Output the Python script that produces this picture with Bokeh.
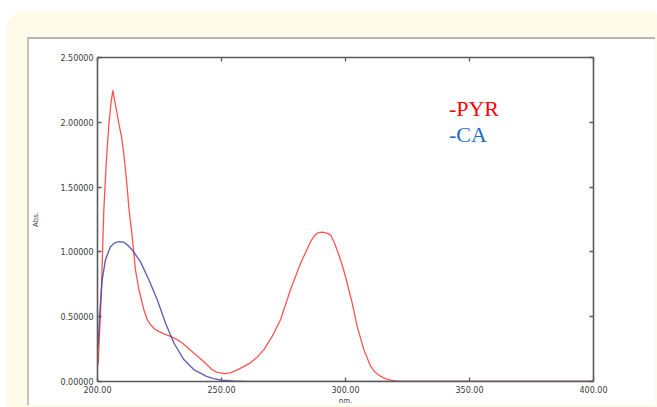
from bokeh.plotting import figure
from bokeh.layouts import column
from bokeh.models import LinearAxis, Label, FixedTicker, NumeralTickFormatter, Range1d
from bokeh.embed import file_html
from bokeh.resources import INLINE

# data
pyr_nm = [200.0, 200.3, 201.2, 201.9, 202.5, 203.5, 204.6, 205.5, 206.2, 207.0, 207.9, 208.8,
          209.7, 210.5, 211.3, 212.0, 212.6, 213.3, 214.0, 215.3, 216.7, 218.7, 220.0, 221.4,
          223.0, 224.7, 227.0, 229.4, 232.0, 234.2, 237.0, 239.5, 243.0, 246.0, 248.0, 251.0,
          253.6, 257.0, 261.7, 264.5, 267.1, 270.5, 273.8, 277.8, 281.9, 284.0, 285.9, 287.5,
          288.6, 290.6, 292.5, 294.0, 295.3, 296.6, 298.3, 300.0, 302.7, 304.7, 307.4, 310.1,
          312.0, 314.1, 316.0, 318.1, 320.0, 322.0, 400.0]
pyr_abs = [0.12, 0.144, 0.528, 0.913, 1.30, 1.68, 1.99, 2.16, 2.246, 2.16, 2.067, 1.97,
           1.887, 1.77, 1.63, 1.49, 1.35, 1.23, 1.118, 0.862, 0.708, 0.554, 0.48, 0.438,
           0.405, 0.387, 0.365, 0.348, 0.325, 0.297, 0.25, 0.208, 0.15, 0.095, 0.072, 0.06,
           0.067, 0.095, 0.144, 0.19, 0.246, 0.35, 0.477, 0.708, 0.913, 1.0, 1.079, 1.125,
           1.144, 1.152, 1.145, 1.13, 1.08, 1.015, 0.92, 0.81, 0.605, 0.425, 0.246, 0.118,
           0.07, 0.041, 0.022, 0.01, 0.004, 0.0, 0.0]

ca_nm = [200.0, 200.3, 201.0, 201.9, 203.2, 205.2, 207.0, 208.6, 210.6, 212.3, 214.0, 217.3,
         220.7, 224.1, 227.4, 230.8, 234.8, 238.8, 241.5, 244.0, 246.8, 250.0, 255.0, 260.0,
         400.0]
ca_abs = [0.26, 0.297, 0.55, 0.785, 0.938, 1.04, 1.07, 1.079, 1.074, 1.05, 1.015, 0.925,
          0.785, 0.631, 0.451, 0.297, 0.169, 0.092, 0.065, 0.04, 0.022, 0.01, 0.004, 0.0,
          0.0]

y_ticks = [0.0, 0.5, 1.0, 1.5, 2.0, 2.5]
x_ticks = [200, 250, 300, 350, 400]
legend_names = ["-PYR", "-CA"]

AXC = "#5a5a5a"
LBL = "#3a3a3a"

p = figure(width=628, height=368, output_backend="svg", toolbar_location=None,
           x_range=Range1d(200, 400), y_range=Range1d(0, 2.5),
           x_axis_location=None, y_axis_location=None,
           min_border_left=68, min_border_right=64, min_border_top=18, min_border_bottom=25,
           background_fill_color="white", border_fill_color="white", outline_line_color=None,
           styles={"border-top": "2px solid #b6b6b6", "border-left": "2px solid #c4c4c4"})
p.xgrid.visible = False
p.ygrid.visible = False

def style(ax, labels=True):
    ax.axis_line_color = AXC
    ax.axis_line_width = 1.6
    ax.major_tick_line_color = AXC
    ax.major_tick_line_width = 1.3
    ax.major_tick_in = 4
    ax.major_tick_out = 0
    ax.minor_tick_line_color = None
    ax.major_label_text_font = "DejaVu Sans"
    ax.major_label_text_font_size = "8px"
    ax.major_label_text_color = LBL if labels else None
    if not labels:
        ax.major_label_standoff = 0

left = LinearAxis(ticker=FixedTicker(ticks=y_ticks),
                  formatter=NumeralTickFormatter(format="0.00000"),
                  axis_label="Abs.", axis_label_standoff=17,
                  axis_label_text_font="DejaVu Sans", axis_label_text_font_size="7px",
                  axis_label_text_font_style="normal", axis_label_text_color=LBL)
style(left)
left.major_label_standoff = 4
p.add_layout(left, "left")

bottom = LinearAxis(ticker=FixedTicker(ticks=x_ticks),
                    formatter=NumeralTickFormatter(format="0.00"),
                    axis_label="nm.", axis_label_standoff=1,
                    axis_label_text_font="DejaVu Sans", axis_label_text_font_size="7px",
                    axis_label_text_font_style="normal", axis_label_text_color=LBL)
style(bottom)
bottom.major_label_standoff = 4
p.add_layout(bottom, "below")

top = LinearAxis(ticker=FixedTicker(ticks=x_ticks))
style(top, labels=False)
p.add_layout(top, "above")
right = LinearAxis(ticker=FixedTicker(ticks=y_ticks))
style(right, labels=False)
p.add_layout(right, "right")

p.line(pyr_nm, pyr_abs, line_color="#ff4a4a", line_width=1.3, line_alpha=0.95)
p.line(ca_nm, ca_abs, line_color="#4646a6", line_width=1.4, line_alpha=0.85)

p.add_layout(Label(x=341.7, y=2.108, text=legend_names[0], text_color="#ff0000",
                   text_font="Liberation Serif", text_font_size="22px",
                   text_baseline="alphabetic"))
p.add_layout(Label(x=341.7, y=1.904, text=legend_names[1], text_color="#1a6fc0",
                   text_font="Liberation Serif", text_font_size="22px",
                   text_baseline="alphabetic"))

page = column(p, width=650, height=396,
              styles={"background-color": "#fdfae8",
                      "border-top-left-radius": "18px",
                      "border-top-right-radius": "6px",
                      "margin-left": "7px", "margin-top": "11px",
                      "padding-left": "20px", "padding-top": "26px",
                      "box-sizing": "border-box"})

open("out.html", "w").write(file_html(page, INLINE))
